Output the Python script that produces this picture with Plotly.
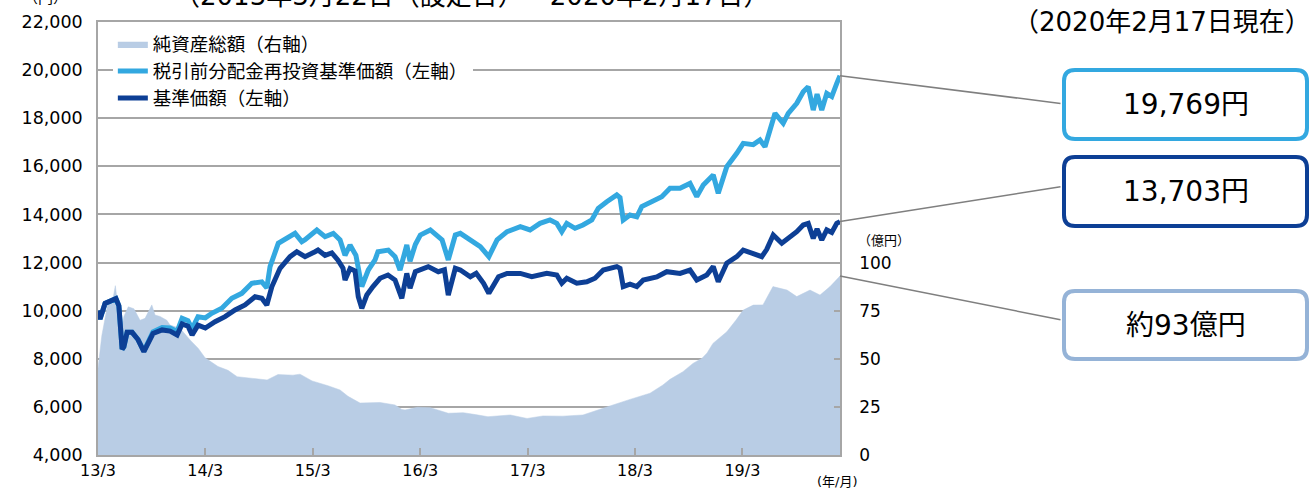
import plotly.graph_objects as go

# ---------------- data ----------------
nav_dates = ["2013-03-22","2013-03-29","2013-04-15","2013-05-09","2013-05-22","2013-06-01","2013-06-12","2013-06-18",
             "2013-06-29","2013-07-16","2013-08-05","2013-08-25","2013-09-08","2013-09-25","2013-10-26","2013-11-22",
             "2013-12-16","2014-01-02","2014-01-22","2014-02-05","2014-02-25","2014-03-22","2014-04-24","2014-05-28",
             "2014-07-01","2014-08-04","2014-09-07","2014-09-30","2014-10-17","2014-11-03","2014-12-01","2015-01-04",
             "2015-01-27","2015-02-24","2015-03-30","2015-04-09","2015-05-03","2015-05-26","2015-06-16","2015-07-03",
             "2015-07-10","2015-07-27","2015-08-13","2015-08-24","2015-09-05","2015-09-22","2015-10-13","2015-11-06",
             "2015-12-03","2015-12-27","2016-01-19","2016-02-05","2016-02-16","2016-03-05","2016-04-18","2016-05-22",
             "2016-06-12","2016-06-25","2016-07-19","2016-08-05","2016-09-08","2016-09-28","2016-10-23","2016-11-10",
             "2016-12-13","2017-01-11","2017-02-25","2017-04-05","2017-05-26","2017-06-29","2017-07-16","2017-08-02",
             "2017-09-05","2017-10-09","2017-11-06","2017-12-04","2018-01-19","2018-01-30","2018-02-10","2018-03-05",
             "2018-03-28","2018-04-19","2018-06-04","2018-07-08","2018-08-22","2018-09-25","2018-10-18","2018-11-21",
             "2018-12-13","2018-12-30","2019-01-28","2019-03-03","2019-03-25","2019-04-28","2019-05-27","2019-06-13",
             "2019-07-05","2019-08-03","2019-08-25","2019-09-23","2019-10-15","2019-11-01","2019-11-18","2019-12-01",
             "2019-12-17","2020-01-03","2020-01-20","2020-02-06","2020-02-17"]
nav_values = [10000,9650,10300,10400,10500,10200,8400,8500,
              9100,9100,8800,8300,8600,9050,9200,9150,
              8990,9450,9350,8990,9400,9280,9540,9750,
              10030,10235,10580,10515,10235,10995,11760,12245,
              12450,12245,12450,12520,12300,12400,12100,11770,
              11270,11750,11650,10580,10100,10650,11000,11345,
              11480,11275,10515,11550,10930,11620,11830,11620,
              11700,10650,11760,11690,11410,11550,11140,10720,
              11410,11550,11550,11410,11550,11480,11140,11350,
              11140,11200,11350,11690,11830,11760,11000,11100,
              11000,11275,11400,11620,11550,11690,11275,11480,
              11830,11205,11970,12245,12520,12385,12245,12550,
              13145,12800,13000,13285,13560,13630,13005,13400,
              12940,13355,13250,13630,13703]

reinv_dates = ["2013-03-22","2013-03-29","2013-04-15","2013-05-09","2013-05-22","2013-06-01","2013-06-12","2013-06-18",
               "2013-06-29","2013-07-16","2013-08-05","2013-08-25","2013-09-08","2013-09-25","2013-10-26","2013-11-22",
               "2013-12-16","2014-01-02","2014-01-22","2014-02-05","2014-02-25","2014-03-22","2014-04-13","2014-05-17",
               "2014-06-20","2014-07-24","2014-08-27","2014-09-30","2014-10-17","2014-10-28","2014-11-25","2014-12-24",
               "2015-01-21","2015-02-13","2015-02-24","2015-04-05","2015-05-03","2015-05-31","2015-06-23","2015-07-10",
               "2015-07-27","2015-08-16","2015-08-24","2015-09-05","2015-09-27","2015-10-20","2015-10-30","2015-12-04",
               "2015-12-27","2016-01-13","2016-02-05","2016-02-16","2016-03-05","2016-03-22","2016-04-25","2016-06-04",
               "2016-06-25","2016-07-19","2016-08-05","2016-09-08","2016-10-12","2016-11-10","2016-12-08","2017-01-11",
               "2017-02-25","2017-03-30","2017-05-03","2017-06-06","2017-06-29","2017-07-16","2017-08-02","2017-08-30",
               "2017-09-26","2017-10-26","2017-11-17","2017-12-16","2018-01-19","2018-01-30","2018-02-10","2018-03-05",
               "2018-03-28","2018-04-14","2018-05-18","2018-06-21","2018-07-19","2018-08-22","2018-09-25","2018-10-18",
               "2018-11-09","2018-12-13","2018-12-30","2019-01-28","2019-03-03","2019-03-25","2019-04-28","2019-05-21",
               "2019-06-07","2019-06-24","2019-07-11","2019-08-08","2019-08-25","2019-09-23","2019-10-15","2019-11-01",
               "2019-11-18","2019-12-01","2019-12-17","2020-01-03","2020-01-20","2020-02-06","2020-02-17"]
reinv_values = [10000,9650,10300,10400,10500,10200,8400,8500,
                9100,9100,8800,8320,8650,9120,9300,9280,
                9130,9680,9580,9250,9750,9700,9890,10100,
                10515,10720,11140,11200,10950,11830,12800,13000,
                13215,12870,12950,13355,13075,13215,12940,12300,
                12730,12300,11700,11000,11690,12110,12450,12520,
                12245,11690,12730,12050,12750,13145,13355,12940,
                12110,13145,13215,12940,12660,12245,12940,13285,
                13490,13355,13630,13770,13630,13285,13630,13425,
                13560,13770,14255,14530,14810,14700,13770,13975,
                13900,14325,14530,14740,15085,15085,15290,14740,
                15220,15640,14880,15985,16540,16955,16900,17095,
                16815,17440,18205,17790,18200,18620,19100,19310,
                18340,19000,18340,19035,18900,19450,19769]

aum_dates = ["2013-03-22","2013-03-29","2013-04-04","2013-04-26","2013-05-13","2013-05-20","2013-05-30","2013-06-11",
             "2013-06-18","2013-07-03","2013-07-22","2013-08-12","2013-08-29","2013-09-21","2013-10-02","2013-10-19",
             "2013-11-11","2013-11-22","2013-12-26","2014-01-29","2014-02-26","2014-03-21","2014-05-04","2014-06-07",
             "2014-07-08","2014-08-31","2014-10-18","2014-11-24","2015-01-14","2015-02-07","2015-03-20","2015-05-13",
             "2015-06-23","2015-07-20","2015-08-30","2015-11-06","2015-12-27","2016-01-19","2016-01-30","2016-03-12",
             "2016-04-25","2016-06-25","2016-08-15","2016-09-25","2016-11-07","2017-01-22","2017-03-20","2017-05-13",
             "2017-07-20","2017-09-26","2017-11-13","2018-01-06","2018-03-05","2018-05-12","2018-06-25","2018-07-19",
             "2018-09-01","2018-10-05","2018-11-05","2018-11-22","2018-12-12","2019-01-28","2019-02-28","2019-03-25",
             "2019-04-28","2019-05-31","2019-07-04","2019-08-21","2019-09-23","2019-11-07","2019-12-11","2020-01-14",
             "2020-02-17"]
aum_values = [45,56,62,80,82,88,75,66,
              72,77,76,70,71,78,72.7,72,
              70,67.5,65.8,59.8,55.4,50.5,46,44,
              40.7,39.8,39,41.8,41.5,42,38.5,36,
              33.8,30.5,27,27.3,26,23.7,23.4,24.8,
              24.6,21.7,22,21,19.9,20.8,19,20.3,
              20.2,20.8,23.4,26,28.9,32.1,36.4,39.3,
              43.3,47.6,50.3,53,58,64,70,75.3,
              77.9,78,87.5,85.7,82.3,85.7,83.1,87.5,
              93]

left_ticks = list(range(4000, 22001, 2000))
right_ticks = [0, 25, 50, 75, 100]
x_tick_dates = ["2013-03-22","2014-03-22","2015-03-22","2016-03-22","2017-03-22","2018-03-22","2019-03-22"]
x_tick_text = ["13/3","14/3","15/3","16/3","17/3","18/3","19/3"]

names = ["純資産総額（右軸）", "税引前分配金再投資基準価額（左軸）", "基準価額（左軸）"]
box_texts = ["19,769円", "13,703円", "約93億円"]

# ---------------- styling ----------------
W, H = 1315, 491
L, R, T, B = 98, 840, 22, 455
C_AREA, C_LIGHT, C_DARK, C_BOX3 = "#B9CDE5", "#33A8E0", "#0D3F95", "#95B3D7"
GRID = "#A6A6A6"
FONT = "DejaVu Sans, Noto Sans CJK JP, sans-serif"

def px(xp, yp):
    return (xp - L) / (R - L), (B - yp) / (B - T)

fig = go.Figure()
fig.add_trace(go.Scatter(x=aum_dates, y=aum_values, name=names[0], mode="lines", fill="tozeroy",
                         line=dict(color=C_AREA, width=0.5), fillcolor=C_AREA, yaxis="y"))
fig.add_trace(go.Scatter(x=reinv_dates, y=reinv_values, name=names[1], mode="lines",
                         line=dict(color=C_LIGHT, width=5), yaxis="y2"))
fig.add_trace(go.Scatter(x=nav_dates, y=nav_values, name=names[2], mode="lines",
                         line=dict(color=C_DARK, width=5), yaxis="y2"))

fig.update_layout(
    width=W, height=H,
    margin=dict(l=L, r=W - R, t=T, b=H - B, pad=0),
    paper_bgcolor="white", plot_bgcolor="white",
    font=dict(family=FONT, size=17, color="#000000"),
    xaxis=dict(type="date", range=[nav_dates[0], nav_dates[-1]], tickvals=x_tick_dates, ticktext=x_tick_text,
               ticks="inside", ticklen=7, tickcolor=GRID, tickwidth=1.5, showline=True, linecolor=GRID,
               linewidth=1.5, mirror=True, showgrid=False, zeroline=False, tickfont=dict(size=16)),
    yaxis=dict(side="right", range=[0, 225], tickvals=right_ticks, ticks="inside", ticklen=6, tickcolor=GRID,
               tickwidth=1.5, showgrid=False, zeroline=False, showline=True, linecolor=GRID, linewidth=1.5,
               ticklabelstandoff=14, tickfont=dict(size=17)),
    yaxis2=dict(side="left", overlaying="y", range=[4000, 22000], tickvals=left_ticks, tickformat=",d",
                showgrid=True, gridcolor=GRID, gridwidth=1.5, zeroline=False, showline=True, linecolor=GRID,
                linewidth=1.5, ticks="", ticklabelstandoff=10, tickfont=dict(size=17.5)),
    legend=dict(x=0.02, y=0.992, xanchor="left", yanchor="top", bgcolor="white", borderwidth=0,
                font=dict(size=18.5), itemwidth=30, traceorder="normal", tracegroupgap=0),
    showlegend=True,
)

# leader lines from series end points to the value boxes
ends = [(reinv_dates[-1], reinv_values[-1], "y2", 222, 28),
        (nav_dates[-1], nav_values[-1], "y2", 222, -35),
        (aum_dates[-1], aum_values[-1], "y", 222, 44)]
for xd, yv, yr, ax, ay in ends:
    fig.add_annotation(x=xd, y=yv, xref="x", yref=yr, ax=ax, ay=ay, axref="pixel", ayref="pixel",
                       text=" ", showarrow=True, arrowhead=0, arrowwidth=1.5, arrowcolor="#7F7F7F",
                       standoff=0, startstandoff=0, font=dict(size=1))

# rounded boxes
def rounded(x0, y0, x1, y1, r):
    pts = [("M", x0 + r, y0), ("L", x1 - r, y0), ("Q", x1, y0, x1, y0 + r), ("L", x1, y1 - r),
           ("Q", x1, y1, x1 - r, y1), ("L", x0 + r, y1), ("Q", x0, y1, x0, y1 - r), ("L", x0, y0 + r),
           ("Q", x0, y0, x0 + r, y0)]
    s = ""
    for p in pts:
        cmd = p[0]
        coords = p[1:]
        parts = []
        for i in range(0, len(coords), 2):
            a, b = px(coords[i], coords[i + 1])
            parts.append(f"{a:.5f},{b:.5f}")
        s += cmd + " " + " ".join(parts) + " "
    return s + "Z"

boxes = [(1064, 70, 1307, 139, C_LIGHT, box_texts[0]),
         (1064, 157, 1307, 226, C_DARK, box_texts[1]),
         (1064, 291, 1307, 359, C_BOX3, box_texts[2])]
for x0, y0, x1, y1, col, txt in boxes:
    fig.add_shape(type="path", path=rounded(x0, y0, x1, y1, 11), xref="paper", yref="paper",
                  line=dict(color=col, width=4), fillcolor="white", layer="above")
    cx, cy = px((x0 + x1) / 2, (y0 + y1) / 2)
    fig.add_annotation(x=cx, y=cy, xref="paper", yref="paper", text=txt, showarrow=False,
                       font=dict(size=28, color="#000000"), xanchor="center", yanchor="middle")

# other texts
def note(text, xp, yp, size, xanchor="center", yanchor="middle"):
    a, b = px(xp, yp)
    fig.add_annotation(x=a, y=b, xref="paper", yref="paper", text=text, showarrow=False,
                       font=dict(size=size, color="#000000"), xanchor=xanchor, yanchor=yanchor)

note("（2013年3月22日（設定日）～2020年2月17日）", 472, 13, 26, yanchor="bottom")
note("（円）", 45, 9, 15, yanchor="bottom")
note("（2020年2月17日現在）", 1313, 22, 26, xanchor="right")
note("（億円）", 856, 240, 13, xanchor="left")
note("(年/月)", 860, 482, 13, xanchor="right")

fig.write_html("out.html", config={"displayModeBar": False},
               post_script="document.body.style.margin='0';")
